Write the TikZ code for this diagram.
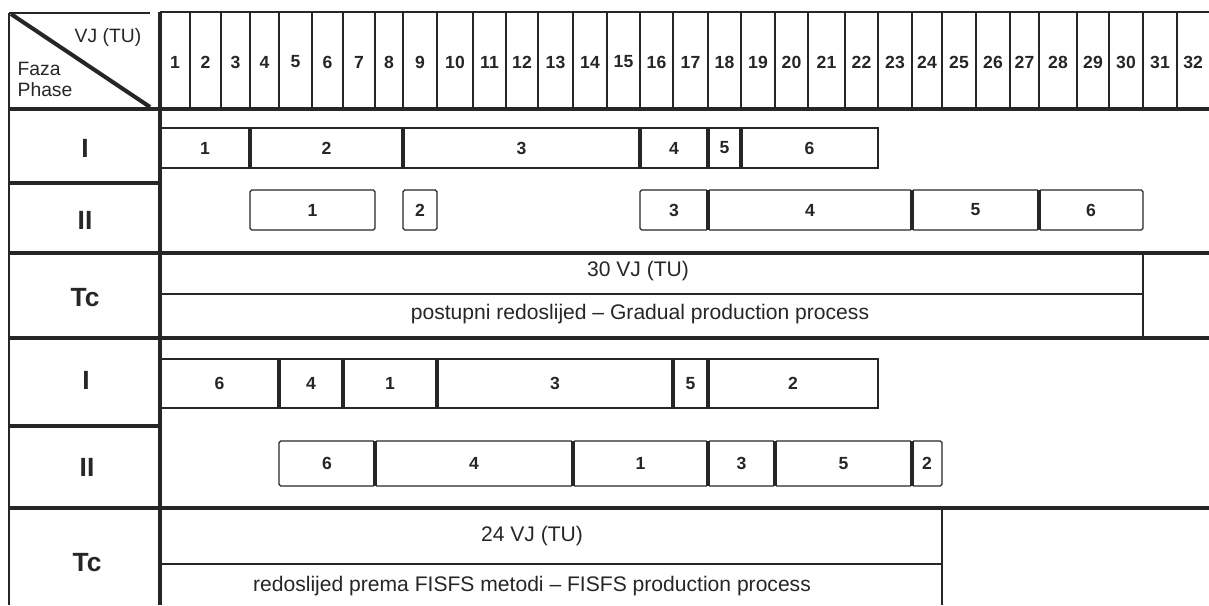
\documentclass[tikz,border=0pt]{standalone}
\usepackage{fontspec}
\setmainfont{Liberation Sans}
\usetikzlibrary{calc,positioning}
\tikzset{every picture/.style={line width=0.7pt}}
\tikzset{
    rule/.style={line width=2.2pt, black!85},
    sep/.style={line width=1.8pt},
    num/.style={font=\bfseries\fontsize{10}{10}\selectfont, inner sep=1pt},
    phase/.style={font=\bfseries\fontsize{15}{15}\selectfont},
    note/.style={font=\fontsize{12}{12}\selectfont},
    head/.style={font=\fontsize{11}{11}\selectfont, inner sep=0pt},
    job/.style={rounded corners=1pt},
}

\begin{document}
\begin{tikzpicture}[x=0.02cm, y=-0.02cm, black!85]
    \useasboundingbox (0,0) rectangle (1209,605);
    % time units
    \foreach \x [count=\i from 0] in {160,190,221,250,279,312,343,375,403,437,473,506,538,573,607,640,673,708,741,775,808,845,878,912,942,976,1010,1039,1077,1109,1143,1177,1209}
        \coordinate (t\i) at (\x,0);
    % row levels
    \coordinate (top) at (0,12);
    \coordinate (hb) at (0,109);
    \coordinate (gIa) at (0,128);
    \coordinate (gIb) at (0,168);
    \coordinate (gIIa) at (0,190);
    \coordinate (gIIb) at (0,230);
    \coordinate (gTa) at (0,254);
    \coordinate (gTm) at (0,294);
    \coordinate (gTb) at (0,338);
    \coordinate (fIa) at (0,359);
    \coordinate (fIb) at (0,408);
    \coordinate (fIIa) at (0,441);
    \coordinate (fIIb) at (0,486);
    \coordinate (fTa) at (0,508);
    \coordinate (fTm) at (0,564);
    \coordinate (fTb) at (0,605);

    % header
    \draw (9,13) -- (150,13);
    \draw (9,13) -- (9,605);
    \draw (t0 |- top) -- (t32 |- top);
    \draw[line width=2.3pt] (11,14) -- (150,107);
    \node[head] (vj) at (108,37) {VJ (TU)};
    \node[head, anchor=west] (faza) at (17,69) {Faza};
    \node[head, below right=3pt and 0pt of faza.south west] (phase) {Phase};
    \foreach \i in {1,...,31}
        \draw (t\i |- top) -- (t\i |- hb);
    \foreach \i [count=\j from 0] in {1,...,32}
        \node[num] (c\i) at ($(t\j)!.5!(t\i)+(0,62)$) {\i};

    % frame
    \draw[rule] (160,12) -- (160,605);
    \draw[rule] (9,109) -- (1209,109);
    \draw[rule] (9,183) -- (160,183);
    \draw[rule] (9,253) -- (1209,253);
    \draw[rule] (9,338) -- (1209,338);
    \draw[rule] (9,426) -- (160,426);
    \draw[rule] (9,508) -- (1209,508);

    % phase labels
    \node[phase] (gI) at (85,148) {I};
    \node[phase] (gII) at (85,220) {II};
    \node[phase] (gTc) at (85,298) {Tc};
    \node[phase] (fI) at (86,380) {I};
    \node[phase] (fII) at (87,467) {II};
    \node[phase] (fTc) at (87,563) {Tc};

    % postupni redoslijed
    \draw (t0 |- gIa) rectangle (t22 |- gIb);
    \foreach \a/\b/\n in {0/3/1,3/8/2,8/15/3,15/17/4,17/18/5,18/22/6} {
        \draw[sep] (t\a |- gIa) -- (t\a |- gIb);
        \node[num] (gI\n) at ($(t\a |- gIa)!.5!(t\b |- gIb)$) {\n};
    }
    \foreach \a/\b/\n in {3/7/1,8/9/2,15/17/3,17/23/4,23/27/5,27/30/6} {
        \draw[job] (t\a |- gIIa) rectangle (t\b |- gIIb);
        \node[num] (gII\n) at ($(t\a |- gIIa)!.5!(t\b |- gIIb)$) {\n};
    }
    \foreach \a in {17,23,27}
        \draw[sep] (t\a |- gIIa) -- (t\a |- gIIb);
    \draw (t0 |- gTm) -- (t30 |- gTm);
    \draw (t30 |- gTa) -- (t30 |- gTb);
    \node[note] (gsum) at (638,271) {30 VJ (TU)};
    \node[note] (gname) at (640,314) {postupni redoslijed – Gradual production process};

    % FISFS
    \draw (t0 |- fIa) rectangle (t22 |- fIb);
    \foreach \a/\b/\n in {0/4/6,4/6/4,6/9/1,9/16/3,16/17/5,17/22/2} {
        \draw[sep] (t\a |- fIa) -- (t\a |- fIb);
        \node[num] (fI\n) at ($(t\a |- fIa)!.5!(t\b |- fIb)$) {\n};
    }
    \foreach \a/\b/\n in {4/7/6,7/13/4,13/17/1,17/19/3,19/23/5,23/24/2} {
        \draw[job] (t\a |- fIIa) rectangle (t\b |- fIIb);
        \node[num] (fII\n) at ($(t\a |- fIIa)!.5!(t\b |- fIIb)$) {\n};
    }
    \foreach \a in {7,13,17,19,23}
        \draw[sep] (t\a |- fIIa) -- (t\a |- fIIb);
    \draw (t0 |- fTm) -- (t24 |- fTm);
    \draw (t24 |- fTa) -- (t24 |- fTb);
    \node[note] (fsum) at (532,536) {24 VJ (TU)};
    \node[note] (fname) at (532,586) {redoslijed prema FISFS metodi – FISFS production process};
\end{tikzpicture}
\end{document}
